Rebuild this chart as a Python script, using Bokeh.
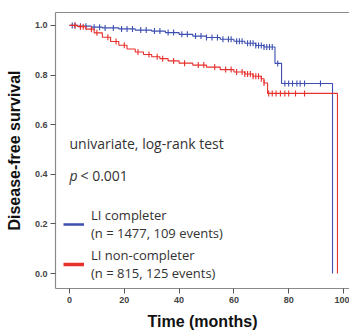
import numpy as np
from bokeh.plotting import figure
from bokeh.models import (Range1d, FixedTicker, Label, Legend, LegendItem, PrintfTickFormatter,
                          LinearAxis)
from bokeh.embed import file_html
from bokeh.resources import INLINE

# Kaplan-Meier step curves (time in months, survival)
blue_t = [0, 3, 8, 12, 18, 24, 30, 35, 40, 45, 50, 55, 60, 64, 68, 71, 75.0, 77.4, 96.0]
blue_s = [1.0, 0.997, 0.993, 0.99, 0.986, 0.981, 0.977, 0.971, 0.964, 0.957, 0.951, 0.944,
          0.936, 0.928, 0.919, 0.913, 0.847, 0.766, 0.0]
red_t = [0, 3, 6, 9, 12, 15, 18, 21, 24, 27, 30, 33, 36, 40, 45, 50, 55, 60, 64, 67, 70, 71,
         72.3, 97.8]
red_s = [1.0, 0.995, 0.985, 0.97, 0.952, 0.935, 0.92, 0.905, 0.893, 0.883, 0.874, 0.866, 0.857,
         0.848, 0.84, 0.832, 0.822, 0.812, 0.804, 0.795, 0.785, 0.768, 0.726, 0.0]

# censored observation times
blue_cens = [1, 2, 4, 6, 9, 11, 13, 16, 19, 21, 23, 26, 28, 31, 33, 36, 38, 41, 43, 46, 48, 50,
             52, 54, 56, 58, 59, 61, 62, 63, 65, 66, 67, 68, 69, 70, 71, 72, 73, 74, 76, 78.6,
             80, 81.4, 83, 84.2, 85.8, 91.6]
red_cens = [2, 4, 5, 8, 10, 14, 17, 20, 25, 29, 32, 34, 38, 42, 47, 49, 53, 57, 59, 61, 63, 64,
            65, 66, 67, 68, 69, 70, 71, 72.7, 74, 75.4, 77, 78.6, 80, 82.5, 85.8]

y_ticks = [0.0, 0.2, 0.4, 0.6, 0.8, 1.0]
x_ticks = [0, 20, 40, 60, 80, 100]

labels = ["LI completer\n(n = 1477, 109 events)", "LI non-completer\n(n = 815, 125 events)"]

BLUE = "#3d4fb0"
RED = "#e8302c"
TXT = "#333333"
FRAME = "#8a8a8a"


def km_at(times, surv, pts):
    idx = np.searchsorted(np.array(times), np.array(pts), side="right") - 1
    return [surv[i] for i in idx]


p = figure(frame_width=294, frame_height=276, output_backend="svg", toolbar_location=None,
           x_range=Range1d(-5.11, 102.2), y_range=Range1d(-0.06, 1.052),
           min_border_left=55, min_border_right=0, min_border_top=12, min_border_bottom=44,
           x_axis_location=None, y_axis_location=None)

p.xgrid.visible = False
p.ygrid.visible = False
p.outline_line_color = None
p.background_fill_color = "white"
p.border_fill_color = "white"

xa = LinearAxis(ticker=FixedTicker(ticks=x_ticks), axis_label="Time (months)")
ya = LinearAxis(ticker=FixedTicker(ticks=y_ticks), axis_label="Disease-free survival",
                formatter=PrintfTickFormatter(format="%.1f"))
for ax in (xa, ya):
    ax.axis_line_color = FRAME
    ax.axis_line_width = 1.2
    ax.major_tick_line_color = "#555555"
    ax.major_tick_out = 5
    ax.major_tick_in = 0
    ax.minor_tick_line_color = None
    ax.major_label_text_font = "Liberation Sans"
    ax.major_label_text_font_style = "bold"
    ax.major_label_text_font_size = "9px"
    ax.major_label_text_color = "#444444"
    ax.axis_label_text_font = "Liberation Sans"
    ax.axis_label_text_font_style = "bold"
    ax.axis_label_text_font_size = "16px"
    ax.axis_label_text_color = "#111111"
xa.major_label_standoff = 3
ya.major_label_standoff = 3
xa.axis_label_standoff = 7
ya.axis_label_standoff = 9
p.add_layout(xa, "below")
p.add_layout(ya, "left")

# top frame line only (no right edge visible in the original)
top_axis = LinearAxis(ticker=FixedTicker(ticks=[]), axis_line_color=FRAME, axis_line_width=1.2,
                      major_tick_line_color=None, minor_tick_line_color=None,
                      major_label_text_font_size="0px")
p.add_layout(top_axis, "above")

p.step(blue_t, blue_s, mode="after", line_color=BLUE, line_width=1.1)
p.scatter(blue_cens, km_at(blue_t, blue_s, blue_cens), marker="dash", angle=np.pi / 2,
          size=6, line_color=BLUE, line_width=1.1)
p.step(red_t, red_s, mode="after", line_color=RED, line_width=1.1)
p.scatter(red_cens, km_at(red_t, red_s, red_cens), marker="dash", angle=np.pi / 2,
          size=6, line_color=RED, line_width=1.1)

# legend glyph renderers (not drawn in the plot area: NaN data)
lg_blue = p.line([np.nan], [np.nan], line_color=BLUE, line_width=2.5)
lg_red = p.line([np.nan], [np.nan], line_color=RED, line_width=3.5)
legend = Legend(items=[LegendItem(label=labels[0], renderers=[lg_blue]),
                       LegendItem(label=labels[1], renderers=[lg_red])],
                location=(8, 6), border_line_color=None, background_fill_alpha=0,
                padding=0, margin=0, spacing=4, glyph_width=21, label_standoff=7,
                label_text_font="Open Sans", label_text_font_size="13px",
                label_text_color=TXT, label_text_line_height=1.4)
p.add_layout(legend)

p.add_layout(Label(x=0.0, y=0.524, text="univariate, log-rank test", text_font="Open Sans",
                   text_font_size="14px", text_color=TXT, text_baseline="middle"))
p.add_layout(Label(x=0.0, y=0.395, text="p", text_font="Open Sans", text_font_style="italic",
                   text_font_size="14px", text_color=TXT, text_baseline="middle"))
p.add_layout(Label(x=0.0, y=0.395, x_offset=11, text="< 0.001", text_font="Open Sans",
                   text_font_size="14px", text_color=TXT, text_baseline="middle"))

open("out.html", "w").write(file_html(p, INLINE))
